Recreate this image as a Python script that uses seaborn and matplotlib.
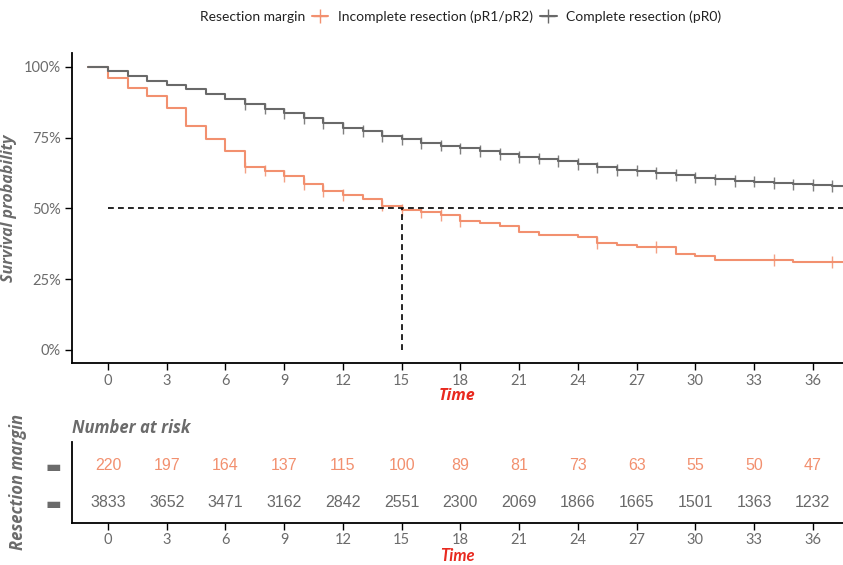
import numpy as np
import pandas as pd
import matplotlib.pyplot as plt
import seaborn as sns
from matplotlib.lines import Line2D

groups = ["Incomplete resection (pR1/pR2)", "Complete resection (pR0)"]
colors = ["#F2906F", "#696969"]

# step times (months), curve starts one unit before 0
times = list(range(-1, 38))
surv_incomplete = [1.000, 0.960, 0.927, 0.898, 0.854, 0.792, 0.746, 0.702, 0.645, 0.634,
                   0.615, 0.587, 0.562, 0.548, 0.534, 0.510, 0.494, 0.486, 0.477, 0.455,
                   0.449, 0.439, 0.418, 0.407, 0.407, 0.398, 0.379, 0.370, 0.364, 0.364,
                   0.339, 0.333, 0.319, 0.319, 0.319, 0.319, 0.312, 0.312, 0.312]
surv_complete = [1.000, 0.985, 0.969, 0.952, 0.938, 0.921, 0.905, 0.887, 0.870, 0.853,
                 0.836, 0.819, 0.802, 0.784, 0.773, 0.757, 0.744, 0.732, 0.722, 0.712,
                 0.703, 0.693, 0.683, 0.676, 0.668, 0.657, 0.645, 0.637, 0.634, 0.625,
                 0.618, 0.609, 0.603, 0.598, 0.595, 0.590, 0.585, 0.582, 0.579]
censor_incomplete = [7, 8, 9, 10, 11, 12, 14, 15, 16, 17, 18, 25, 28, 34, 37]
censor_complete = list(range(7, 38))

risk_times = [0, 3, 6, 9, 12, 15, 18, 21, 24, 27, 30, 33, 36]
risk_incomplete = [220, 197, 164, 137, 115, 100, 89, 81, 73, 63, 55, 50, 47]
risk_complete = [3833, 3652, 3471, 3162, 2842, 2551, 2300, 2069, 1866, 1665, 1501, 1363, 1232]

median_time = 15

sns.set_style("white")
plt.rcParams['font.family'] = ['Lato', 'DejaVu Sans']
tick_col = "#6b6b6b"
red = "#E8291F"
lab_font = ['Open Sans', 'DejaVu Sans']

# long-form tables
curves = []
cens = []
for g, s, c in [(groups[0], surv_incomplete, censor_incomplete), (groups[1], surv_complete, censor_complete)]:
    t = times + [38]
    v = s + [s[-1]]
    curves.append(pd.DataFrame({"time": t, "surv": v, "group": g}))
    lookup = dict(zip(times, s))
    cens.append(pd.DataFrame({"time": c, "surv": [lookup[x] for x in c], "group": g}))
curves = pd.concat(curves)
cens = pd.concat(cens)
pal = dict(zip(groups, colors))

fig = plt.figure(figsize=(8.43, 5.65), dpi=100)
ax = fig.add_axes([0.0854, 0.3575, 0.9146, 0.549])
sns.lineplot(data=curves, x="time", y="surv", hue="group", palette=pal, drawstyle="steps-post",
             estimator=None, linewidth=1.5, legend=False, ax=ax)
sns.scatterplot(data=cens, x="time", y="surv", hue="group", palette=pal, marker="|", s=70,
                linewidth=1.0, alpha=0.85, legend=False, ax=ax)
ax.plot([0, 40], [0.5, 0.5], ls=(0, (3.5, 2.5)), color="black", lw=1.2)
ax.plot([median_time, median_time], [0, 0.5], ls=(0, (3.5, 2.5)), color="black", lw=1.2)

ax.set_xlim(-1.84, 37.54)
ax.set_ylim(-0.046, 1.05)
ax.set_xticks(risk_times)
ax.set_yticks([0, 0.25, 0.5, 0.75, 1.0])
ax.set_yticklabels(["0%", "25%", "50%", "75%", "100%"])
ax.tick_params(axis="both", direction="out", length=5, width=1, color="black",
               labelsize=10.5, labelcolor=tick_col, bottom=True, left=True, pad=3)
for sp in ["top", "right"]:
    ax.spines[sp].set_visible(False)
for sp in ["left", "bottom"]:
    ax.spines[sp].set_color("black")
    ax.spines[sp].set_linewidth(1.3)
ax.set_xlabel("Time", color=red, fontsize=11.5, fontstyle="italic", fontweight="bold",
              labelpad=0, family=lab_font)
ax.set_ylabel("Survival probability", color=tick_col, fontsize=11.5, fontstyle="italic",
              fontweight="bold", labelpad=5, family=lab_font)

# legend
fig.text(200 / 843, 1 - 17 / 565, "Resection margin", fontsize=10, va="center", ha="left", color="#222222")
handles = [Line2D([], [], color=c, marker="+", markersize=10, lw=1.5) for c in colors]
fig.legend(handles, groups, loc="center left", bbox_to_anchor=(299 / 843, 1 - 17 / 565), ncol=2,
           frameon=False, fontsize=10, handlelength=1.2, handletextpad=0.7, columnspacing=0.5,
           labelcolor="#222222")

# risk table
rt = fig.add_axes([0.0854, 0.074, 0.9146, 0.143])
for y, vals, c in [(1, risk_incomplete, colors[0]), (0, risk_complete, colors[1])]:
    for t, n in zip(risk_times, vals):
        rt.text(t, y, str(n), ha="center", va="center", color=c, fontsize=11.5,
                family=['Liberation Sans Narrow', 'Liberation Sans'])
rt.set_xlim(-1.84, 37.54)
rt.set_ylim(-0.57, 1.62)
rt.set_xticks(risk_times)
rt.set_yticks([0, 1])
rt.set_yticklabels(["\u25ac", "\u25ac"], family="DejaVu Sans", color=tick_col, fontsize=12)
rt.tick_params(axis="x", direction="out", length=5, width=1, color="black",
               labelsize=10.5, labelcolor=tick_col, bottom=True, pad=2)
rt.tick_params(axis="y", length=0, pad=8, left=False)
for sp in ["top", "right"]:
    rt.spines[sp].set_visible(False)
for sp in ["left", "bottom"]:
    rt.spines[sp].set_color("black")
    rt.spines[sp].set_linewidth(1.3)
rt.set_xlabel("Time", color=red, fontsize=12, fontstyle="italic", fontweight="bold")
rt.xaxis.set_label_coords(0.5, -0.31)
rt.set_title("Number at risk", loc="left", color=tick_col, fontsize=12, fontstyle="italic",
             fontweight="bold", pad=7, family=lab_font)
fig.text(18 / 843, 1 - 482 / 565, "Resection margin", rotation=90, ha="center", va="center",
         color=tick_col, fontsize=12, fontstyle="italic", fontweight="bold", family=lab_font)

fig.savefig("out.png", dpi=100)
